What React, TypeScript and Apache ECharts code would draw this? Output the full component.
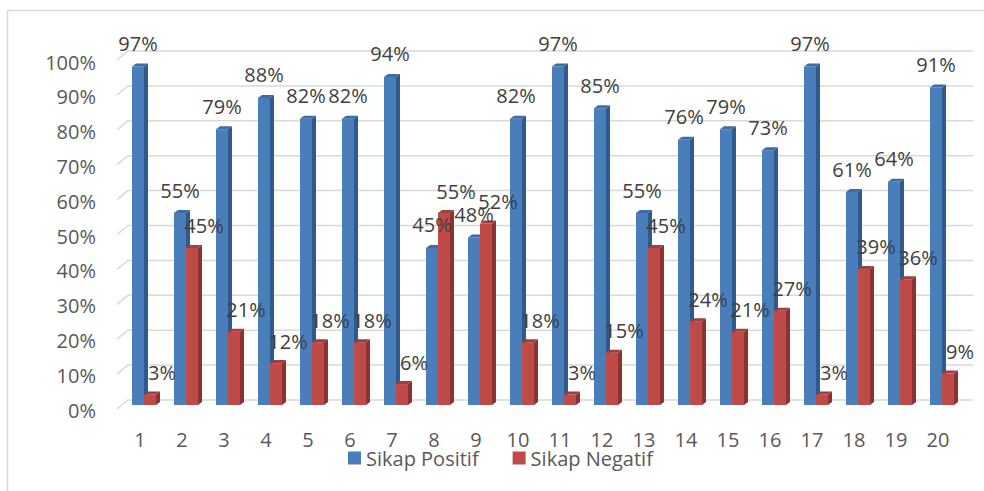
import { useEffect, useRef } from "react";
import * as echarts from "echarts";

const categories = ["1", "2", "3", "4", "5", "6", "7", "8", "9", "10", "11", "12", "13", "14", "15", "16", "17", "18", "19", "20"];
const positif = [97, 55, 79, 88, 82, 82, 94, 45, 48, 82, 97, 85, 55, 76, 79, 73, 97, 61, 64, 91];
const negatif = [3, 45, 21, 12, 18, 18, 6, 55, 52, 18, 3, 15, 45, 24, 21, 27, 3, 39, 36, 9];
const yTicks = [0, 10, 20, 30, 40, 50, 60, 70, 80, 90, 100];
const seriesNames = ["Sikap Positif", "Sikap Negatif"];

const FONT = "'Open Sans', sans-serif";

const blue = { front: "#4A7EBB", side: "#2F5A8C", top: "#3D6DA6" };
const red = { front: "#BE4B48", side: "#8A3331", top: "#A03E3B" };

function barRenderer(colors: { front: string; side: string; top: string }, offset: number) {
  return (params: any, api: any) => {
    const i = api.value(0);
    const v = api.value(1);
    const b = api.coord([i, 0]);
    const t = api.coord([i, v]);
    const w = 12;
    const d = 4;
    const e = 3;
    const x0 = b[0] + offset;
    return {
      type: "group",
      children: [
        { type: "rect", shape: { x: x0, y: t[1], width: w, height: b[1] - t[1] }, style: { fill: colors.front } },
        {
          type: "polygon",
          shape: { points: [[x0 + w, t[1]], [x0 + w + d, t[1] - e], [x0 + w + d, b[1] - e], [x0 + w, b[1]]] },
          style: { fill: colors.side },
        },
        {
          type: "polygon",
          shape: { points: [[x0, t[1]], [x0 + d, t[1] - e], [x0 + w + d, t[1] - e], [x0 + w, t[1]]] },
          style: { fill: colors.top },
        },
      ],
    };
  };
}

function labelRenderer(dx: number, dy: number) {
  return (params: any, api: any) => {
    const i = api.value(0);
    const v = api.value(1);
    const t = api.coord([i, v]);
    return {
      type: "text",
      x: t[0] + dx,
      y: t[1] + dy,
      style: {
        text: v + "%",
        font: `20px ${FONT}`,
        fill: "#404040",
        align: "center",
        verticalAlign: "middle",
      },
    };
  };
}

export default function App() {
  const ref = useRef<HTMLDivElement>(null);
  useEffect(() => {
    document.body.style.margin = "0";
    if (!ref.current) return;
    const chart = echarts.init(ref.current, undefined, { renderer: "svg" });
    const option: any = {
      animation: false,
      backgroundColor: "#ffffff",
      textStyle: { fontFamily: FONT },
      graphic: [
        {
          type: "rect",
          shape: { x: 7.5, y: 10.5, width: 1000, height: 500 },
          style: { fill: "none", stroke: "#d9d9d9", lineWidth: 1.5 },
          z: -10,
        },
      ],
      grid: [
        { left: 119, width: 840, top: 56, height: 349, containLabel: false },
        { left: 119, width: 840, top: 62, height: 348, containLabel: false },
      ],
      legend: {
        data: seriesNames,
        left: 348,
        top: 448,
        icon: "rect",
        itemWidth: 13,
        itemHeight: 13,
        itemGap: 34,
        padding: 0,
        textStyle: { fontSize: 20, color: "#595959", fontFamily: FONT },
      },
      xAxis: [
        {
          type: "category",
          data: categories,
          axisLine: { show: false },
          axisTick: { show: false },
          splitLine: { show: false },
          axisLabel: { fontSize: 20, color: "#595959", margin: 24, fontFamily: FONT, interval: 0 },
        },
        {
          type: "category",
          gridIndex: 1,
          data: categories,
          show: false,
        },
      ],
      yAxis: [
        {
          type: "value",
          min: 0,
          max: 100,
          interval: 10,
          splitLine: { show: false },
          axisLine: { show: false },
          axisTick: { show: false },
          axisLabel: { show: false },
        },
        {
          type: "value",
          gridIndex: 1,
          min: 0,
          max: 100,
          interval: 10,
          splitLine: { show: false },
          axisLine: { show: false },
          axisTick: { show: false },
          axisLabel: {
            formatter: "{value}%",
            fontSize: 20,
            color: "#595959",
            margin: 23,
            fontFamily: FONT,
          },
        },
      ],
      series: [
        {
          type: "custom",
          name: "grid",
          silent: true,
          clip: false,
          z: 0,
          data: yTicks.map((t) => [0, t]),
          renderItem: (params: any, api: any) => {
            const cs = params.coordSys;
            const p = api.coord([0, api.value(1)]);
            const y = p[1];
            return {
              type: "polyline",
              shape: {
                points: [
                  [cs.x - 2, y + 4],
                  [cs.x + 9, y - 5],
                  [cs.x + cs.width + 14, y - 5],
                ],
              },
              style: { stroke: "#d9d9d9", lineWidth: 1.5, fill: "none" },
            };
          },
        },
        {
          type: "custom",
          name: seriesNames[0],
          z: 2,
          clip: false,
          itemStyle: { color: blue.front },
          data: positif.map((v, i) => [i, v]),
          renderItem: barRenderer(blue, -8),
        },
        {
          type: "custom",
          name: seriesNames[1],
          z: 2,
          clip: false,
          itemStyle: { color: red.front },
          data: negatif.map((v, i) => [i, v]),
          renderItem: barRenderer(red, 4),
        },
        {
          type: "custom",
          name: "labelsPos",
          z: 3,
          clip: false,
          silent: true,
          data: positif.map((v, i) => [i, v]),
          renderItem: labelRenderer(-2, -23),
        },
        {
          type: "custom",
          name: "labelsNeg",
          z: 3,
          clip: false,
          silent: true,
          data: negatif.map((v, i) => [i, v]),
          renderItem: labelRenderer(22, -22),
        },
      ],
    };
    chart.setOption(option);
    return () => chart.dispose();
  }, []);
  return <div ref={ref} style={{ width: 984, height: 491 }} />;
}
